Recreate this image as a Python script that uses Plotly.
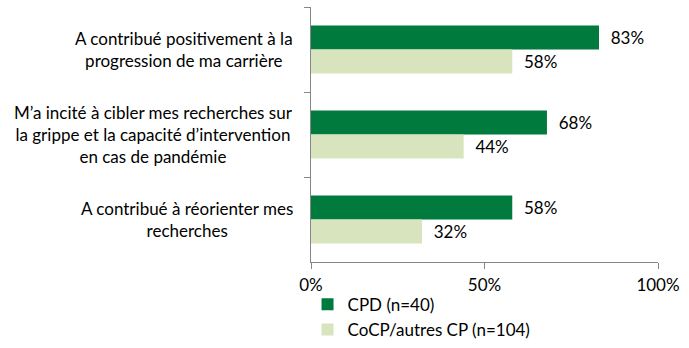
import plotly.graph_objects as go

categories = [
    "A contribué positivement à la<br>progression de ma carrière",
    "M’a incité à cibler mes recherches sur<br>la grippe et la capacité d’intervention<br>en cas de pandémie",
    "A contribué à réorienter mes<br>recherches",
]
series_names = ["CPD (n=40)", "CoCP/autres CP (n=104)"]
cpd_values = [83, 68, 58]
cocp_values = [58, 44, 32]
x_ticks = [0, 50, 100]
x_tick_labels = ["0%", "50%", "100%"]

colors = ["#007A3D", "#D7E4BD"]
FONT = "Lato"
fs = 17

fig = go.Figure()
for name, vals, col in zip(series_names, [cpd_values, cocp_values], colors):
    fig.add_trace(go.Bar(
        y=categories, x=vals, orientation="h", name=name,
        marker=dict(color=col, line=dict(width=0)),
        text=["  " + f"{v}%" for v in vals], textposition="outside",
        textfont=dict(family=FONT, size=fs, color="#000000"),
        cliponaxis=False,
    ))

for c in categories:
    fig.add_annotation(
        x=0, xref="paper", y=c, yref="y", text=c, showarrow=False,
        xanchor="right", align="center", xshift=-16,
        font=dict(family=FONT, size=fs, color="#000000"),
    )

fig.update_layout(
    width=689, height=348,
    margin=dict(l=311, r=31, t=7, b=86, autoexpand=False),
    paper_bgcolor="white", plot_bgcolor="white",
    barmode="group", bargap=0.435, bargroupgap=0,
    font=dict(family=FONT, size=fs, color="#000000"),
    showlegend=True,
    legend=dict(x=-0.01, y=-0.097, xanchor="left", yanchor="top",
                orientation="v", traceorder="normal",
                bgcolor="rgba(0,0,0,0)",
                font=dict(family=FONT, size=fs), itemwidth=30,
                tracegroupgap=3),
    xaxis=dict(range=[0, 100], tickvals=x_ticks, ticktext=x_tick_labels,
               showgrid=False, zeroline=False, showline=True,
               linecolor="#868686", linewidth=1, ticks="outside",
               ticklen=6, tickcolor="#868686", ticklabelstandoff=2,
               tickfont=dict(family=FONT, size=fs)),
    yaxis=dict(autorange="reversed", showticklabels=False,
               showgrid=False, zeroline=False, showline=True,
               linecolor="#868686", linewidth=1, ticks="outside",
               tickson="boundaries", ticklen=6, tickcolor="#868686"),
)

fig.write_html("out.html")
